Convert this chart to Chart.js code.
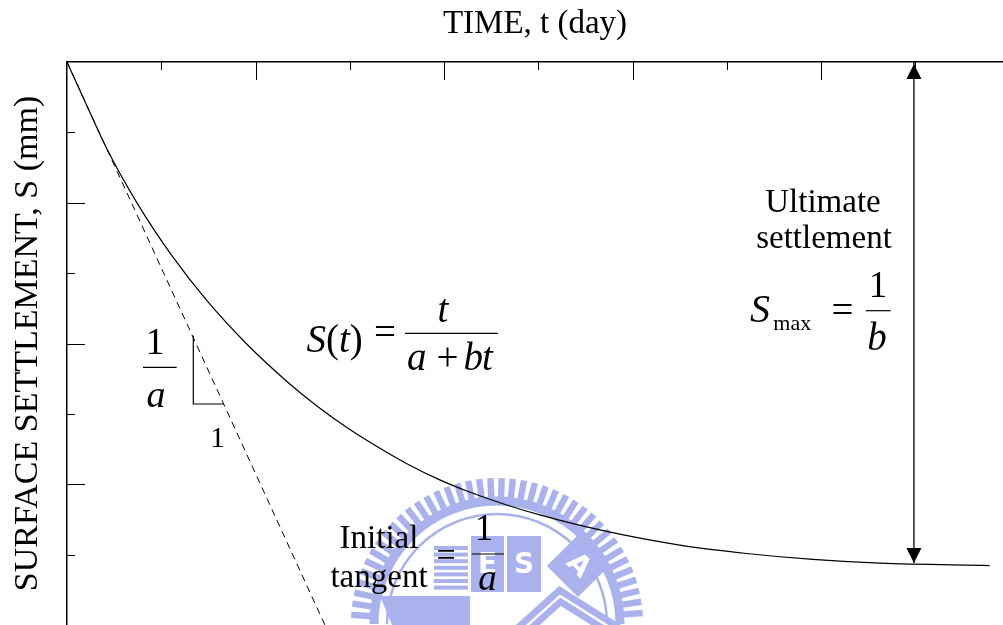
<!DOCTYPE html>
<html>
<head>
<meta charset="utf-8">
<script src="https://cdn.jsdelivr.net/npm/chart.js@4.4.1/dist/chart.umd.min.js"></script>
<style>
  html, body { margin: 0; padding: 0; background: #fff; }
  canvas { display: block; }
</style>
</head>
<body>
<canvas id="c" width="1003" height="625"></canvas>
<script>
// Axis ranges: time t (day) across the top, settlement S (mm) downwards
const TIME_RANGE = [0, 99.3];
const SETTLEMENT_RANGE = [0, 80];
const TICK_STEP = 10;

// Hyperbolic settlement curve S(t), as (t, S) pairs
const CURVE_T = [0, 2.12, 4.24, 7.42, 11.13, 14.85, 19.09, 23.33, 26.51, 30.01, 32.45, 36.06, 39.55, 42.42, 46.66, 50.16, 56.52, 65.01, 72.11, 79.11, 86.21, 97.88];
const CURVE_S = [0, 6.25, 12.36, 20.01, 27.52, 33.92, 40.11, 45.39, 48.87, 52.22, 54.28, 57.08, 59.38, 60.96, 62.95, 64.36, 66.49, 68.65, 69.84, 70.68, 71.21, 71.55];

// Initial tangent through the origin (slope 1/a)
const TANGENT_T = [0, 27.36];
const TANGENT_S = [0, 80];

// Slope triangle beside the tangent
const SLOPE_T = [13.4, 13.4, 16.65];
const SLOPE_S = [38.9, 48.6, 48.6];

// Double arrow marking the ultimate settlement 1/b
const ULT_T = [89.85, 89.85];
const ULT_S = [0, 71.2];

const pairs = (xs, ys) => xs.map((x, i) => ({ x, y: ys[i] }));
const SERIF = '"Liberation Serif", "Times New Roman", serif';

// Faint university seal printed behind the lower part of the plot
const SEAL = '#a9b2ec';
const seal = {
  id: 'seal',
  beforeDatasetsDraw(chart) {
    const { ctx } = chart;
    const cx = 497, cy = 624;
    ctx.save();
    ctx.fillStyle = SEAL;
    ctx.strokeStyle = SEAL;
    // cog teeth around the rim
    for (let ang = Math.PI * 1.02; ang <= Math.PI * 1.98; ang += 0.077) {
      ctx.save();
      ctx.translate(cx, cy);
      ctx.rotate(ang);
      ctx.fillRect(127, -3.2, 19, 6.4);
      ctx.restore();
    }
    // rim bands
    ctx.lineWidth = 9;
    ctx.beginPath(); ctx.arc(cx, cy, 123, Math.PI, 2 * Math.PI); ctx.stroke();
    ctx.lineWidth = 2.5;
    ctx.beginPath(); ctx.arc(cx, cy, 110, Math.PI, 2 * Math.PI); ctx.stroke();
    // striped block
    for (let i = 0; i < 7; i++) ctx.fillRect(434, 546 + i * 6.6, 34, 4);
    // hull
    ctx.beginPath();
    ctx.moveTo(380, 596); ctx.lineTo(470, 596); ctx.lineTo(470, 625); ctx.lineTo(392, 625);
    ctx.closePath(); ctx.fill();
    // lettered blocks
    ctx.fillRect(471, 536, 33, 56);
    ctx.fillRect(507, 536, 34, 56);
    ctx.save();
    ctx.translate(578, 566);
    ctx.rotate(Math.PI / 4);
    ctx.fillRect(-22, -22, 44, 44);
    ctx.restore();
    // chevron band
    ctx.lineWidth = 16;
    ctx.beginPath(); ctx.moveTo(520, 632); ctx.lineTo(560, 596); ctx.lineTo(630, 640); ctx.stroke();
    ctx.strokeStyle = '#fff';
    ctx.lineWidth = 2.5;
    ctx.beginPath(); ctx.moveTo(520, 632); ctx.lineTo(560, 596); ctx.lineTo(630, 640); ctx.stroke();
    ctx.fillStyle = '#fff';
    ctx.font = 'bold 28px "DejaVu Sans", sans-serif';
    ctx.textAlign = 'center';
    ctx.textBaseline = 'middle';
    ctx.fillText('E', 487.5, 566);
    ctx.fillText('S', 524, 566);
    ctx.save();
    ctx.translate(578, 566);
    ctx.rotate(Math.PI / 4);
    ctx.fillText('A', 0, 0);
    ctx.restore();
    ctx.restore();
  }
};

// Tick marks pointing into the plot, longer on every second step
const innerTicks = {
  id: 'innerTicks',
  afterDatasetsDraw(chart) {
    const { ctx, chartArea: a, scales: { x, y } } = chart;
    ctx.save();
    ctx.strokeStyle = '#000';
    ctx.lineWidth = 1;
    const marks = (scale, fn) => scale.ticks.forEach(t => {
      const v = Math.round(t.value);
      if (Math.abs(v - t.value) > 1e-6 || v <= 0 || v % TICK_STEP) return;
      fn(Math.round(scale.getPixelForValue(v)) + 0.5, v % (2 * TICK_STEP) === 0 ? 18 : 8);
    });
    marks(x, (px, len) => { ctx.beginPath(); ctx.moveTo(px, a.top); ctx.lineTo(px, a.top + len); ctx.stroke(); });
    marks(y, (py, len) => { ctx.beginPath(); ctx.moveTo(a.left, py); ctx.lineTo(a.left + len, py); ctx.stroke(); });
    ctx.restore();
  }
};

// Filled arrowheads on both ends of the ultimate-settlement dataset
const arrowHeads = {
  id: 'arrowHeads',
  afterDatasetsDraw(chart) {
    const meta = chart.getDatasetMeta(3);
    const [p0, p1] = meta.data;
    const { ctx } = chart;
    const w = 7.5, h = 15;
    ctx.save();
    ctx.fillStyle = '#000';
    ctx.beginPath();
    ctx.moveTo(p0.x, p0.y + 2); ctx.lineTo(p0.x - w, p0.y + 2 + h); ctx.lineTo(p0.x + w, p0.y + 2 + h); ctx.closePath();
    ctx.fill();
    ctx.beginPath();
    ctx.moveTo(p1.x, p1.y); ctx.lineTo(p1.x - w, p1.y - h); ctx.lineTo(p1.x + w, p1.y - h); ctx.closePath();
    ctx.fill();
    ctx.restore();
  }
};

// Formula and label text
function txt(ctx, s, x, y, size, italic, align) {
  ctx.font = (italic ? 'italic ' : '') + size + 'px ' + SERIF;
  ctx.textAlign = align || 'left';
  ctx.textBaseline = 'alphabetic';
  ctx.fillText(s, x, y);
  return ctx.measureText(s).width;
}
function bar(ctx, x0, x1, y) {
  ctx.beginPath(); ctx.moveTo(x0, y); ctx.lineTo(x1, y); ctx.stroke();
}

const annotations = {
  id: 'annotations',
  afterDraw(chart) {
    const { ctx } = chart;
    ctx.save();
    ctx.fillStyle = '#000';
    ctx.strokeStyle = '#000';
    ctx.lineWidth = 1.2;

    // S(t) = t / (a + bt)
    let x = 306.5;
    x += txt(ctx, 'S', x, 351.7, 39, true);
    x += txt(ctx, '(', x, 351.7, 39, false);
    x += txt(ctx, 't', x, 351.7, 39, true);
    txt(ctx, ')', x, 351.7, 39, false);
    txt(ctx, '=', 385, 345, 39, false, 'center');
    bar(ctx, 405, 498, 333.3);
    txt(ctx, 't', 443, 321.7, 39, true, 'center');
    txt(ctx, 'a', 407, 370, 39, true);
    txt(ctx, '+', 447.5, 370, 39, false, 'center');
    txt(ctx, 'b', 463.5, 370, 39, true);
    txt(ctx, 't', 482, 370, 39, true);

    // slope 1/a and the unit run
    txt(ctx, '1', 155, 354, 38, false, 'center');
    bar(ctx, 143, 176.7, 367.3);
    txt(ctx, 'a', 156, 406.7, 38, true, 'center');
    txt(ctx, '1', 217.5, 446.7, 30, false, 'center');

    // Ultimate settlement, Smax = 1/b
    txt(ctx, 'Ultimate', 823, 211.7, 33, false, 'center');
    txt(ctx, 'settlement', 824, 248.3, 33, false, 'center');
    txt(ctx, 'S', 750, 321.7, 40, true);
    txt(ctx, 'max', 773.3, 330, 22, false);
    txt(ctx, '=', 842.5, 323, 39, false, 'center');
    bar(ctx, 865.7, 890.7, 310.7);
    txt(ctx, '1', 878, 296.7, 37, false, 'center');
    txt(ctx, 'b', 877, 350, 39, true, 'center');

    // Initial tangent = 1/a
    txt(ctx, 'Initial', 379, 548.3, 33, false, 'center');
    txt(ctx, 'tangent', 379, 586.7, 33, false, 'center');
    txt(ctx, '=', 446, 566, 34, false, 'center');
    bar(ctx, 471.7, 504, 554);
    txt(ctx, '1', 484, 540, 37, false, 'center');
    txt(ctx, 'a', 487.5, 590, 37, true, 'center');

    ctx.restore();
  }
};

const plain = { showLine: true, pointRadius: 0, pointHoverRadius: 0, fill: false, borderColor: '#000' };

new Chart(document.getElementById('c'), {
  type: 'scatter',
  data: {
    datasets: [
      { ...plain, label: 'S(t)', data: pairs(CURVE_T, CURVE_S), borderWidth: 1.2, cubicInterpolationMode: 'monotone' },
      { ...plain, label: 'Initial tangent', data: pairs(TANGENT_T, TANGENT_S), borderWidth: 1, borderDash: [7, 5] },
      { ...plain, label: 'Slope', data: pairs(SLOPE_T, SLOPE_S), borderWidth: 1.2 },
      { ...plain, label: 'Smax', data: pairs(ULT_T, ULT_S), borderWidth: 1.3 }
    ]
  },
  options: {
    responsive: false,
    animation: false,
    devicePixelRatio: 1,
    events: [],
    clip: false,
    layout: { padding: { top: 0, left: 7, right: 0, bottom: 0 } },
    plugins: { legend: { display: false }, tooltip: { enabled: false } },
    scales: {
      x: {
        type: 'linear',
        position: 'top',
        min: TIME_RANGE[0],
        max: TIME_RANGE[1],
        ticks: { display: false, stepSize: TICK_STEP },
        grid: { display: false, drawTicks: false },
        border: { display: true, color: '#000', width: 1.5 },
        title: {
          display: true,
          text: 'TIME, t (day)',
          color: '#000',
          font: { family: SERIF, size: 33, lineHeight: 1.2 },
          padding: { top: 5, bottom: 17.4 }
        }
      },
      y: {
        type: 'linear',
        position: 'left',
        reverse: true,
        min: SETTLEMENT_RANGE[0],
        max: SETTLEMENT_RANGE[1],
        ticks: { display: false, stepSize: TICK_STEP },
        grid: { display: false, drawTicks: false },
        border: { display: true, color: '#000', width: 1.5 },
        title: {
          display: true,
          text: 'SURFACE SETTLEMENT, S (mm)',
          color: '#000',
          font: { family: SERIF, size: 34, lineHeight: 1.2 },
          padding: { top: 0.6, bottom: 18.6 }
        }
      }
    }
  },
  plugins: [seal, innerTicks, arrowHeads, annotations]
});
</script>
</body>
</html>
